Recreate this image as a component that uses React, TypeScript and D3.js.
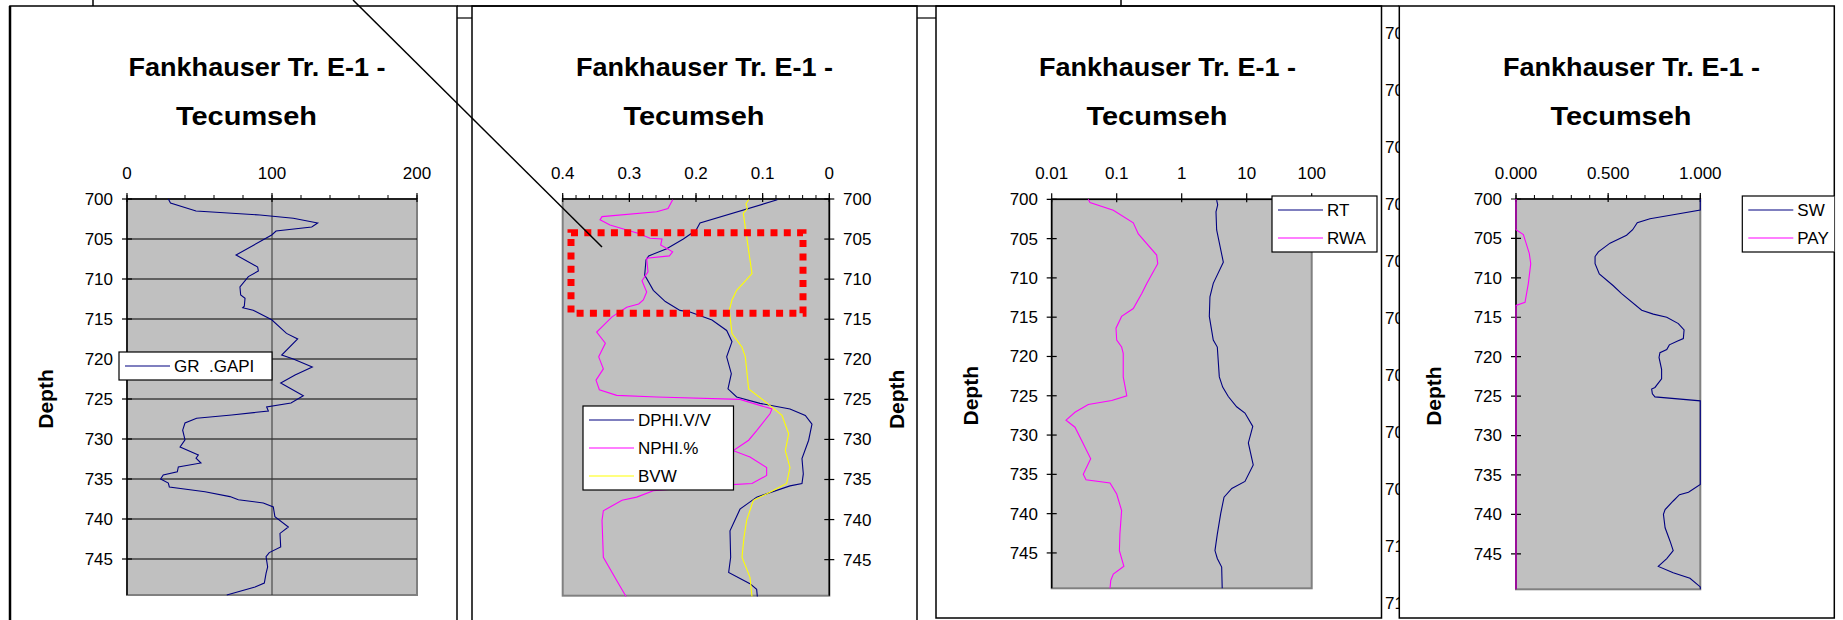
import * as d3 from 'd3';

type Pt = [number, number]; // [depth, value]

const TITLE_LINE1 = 'Fankhauser Tr. E-1 -';
const TITLE_LINE2 = 'Tecumseh';
const DEPTH_TICKS = [700, 705, 710, 715, 720, 725, 730, 735, 740, 745];
const DEPTH_DOMAIN: [number, number] = [700, 749.5];
// labels of a hidden depth axis that peek through the gap between the last two tracks
const GHOST_TICKS = [701, 702, 703, 704, 705, 706, 707, 708, 709, 710, 711];

const GR_TICKS = [0, 100, 200];
const POR_TICKS = [0.4, 0.3, 0.2, 0.1, 0];
const RES_TICKS = [0.01, 0.1, 1, 10, 100];
const SW_TICKS = [0, 0.5, 1];

const GR: Pt[] = [
  [700, 28.5], [700.5, 30], [701.5, 47.6], [702, 91.7], [702.4, 114.7], [703, 131.5], [703.5, 127.4],
  [704, 102.8], [704.5, 99.8], [707, 75.2], [708.5, 90.1], [709, 90.6], [709.7, 83.7], [711, 77.9],
  [712, 78.4], [712.4, 81.4], [713.4, 80.9], [713.6, 79.8], [713.9, 87], [715.1, 99.8], [716.8, 110],
  [717.5, 117.7], [719.5, 106.7], [720, 114.7], [721, 127.8], [722, 115.9], [723, 106], [724.6, 121.6],
  [725.5, 113.1], [726, 96.3], [726.5, 97.5], [727, 72.2], [727.4, 48], [728, 40], [728.9, 38.4],
  [730.1, 40], [731, 36.6], [732, 49.2], [732.4, 47.6], [733, 51], [733.5, 35.4], [734.1, 34.7],
  [734.5, 25], [735, 23.2], [735.5, 28.5], [736, 29.2], [736.6, 53.8], [737.2, 71], [737.6, 76.8],
  [738, 94], [738.5, 100.9], [739.7, 102], [741, 111.3], [741.8, 105.5], [743.5, 106], [744.2, 98.1],
  [744.7, 95.9], [746, 97], [746.8, 95.9], [748, 94.7], [748.5, 88.3], [749.5, 68.8],
];

const DPHI: Pt[] = [
  [700.1, 0.078], [703, 0.194], [703.9, 0.2], [705, 0.219], [706.2, 0.244], [707.1, 0.271], [707.6, 0.275],
  [709.5, 0.277], [711.4, 0.264], [712.8, 0.246], [713.9, 0.224], [714.1, 0.209], [715.1, 0.176],
  [716.4, 0.154], [717.8, 0.146], [719.7, 0.154], [721.8, 0.147], [723.7, 0.152], [724.7, 0.139],
  [725.5, 0.104], [726.2, 0.059], [727, 0.036], [728.1, 0.026], [730.1, 0.031], [732.4, 0.041],
  [734.3, 0.039], [735.5, 0.041], [735.8, 0.059], [737.2, 0.109], [738.7, 0.134], [741.4, 0.149],
  [744.7, 0.148], [746.6, 0.151], [748, 0.119], [748.7, 0.109], [749.6, 0.108],
];

const NPHI: Pt[] = [
  [700.1, 0.235], [701.2, 0.242], [701.6, 0.259], [702.2, 0.341], [702.6, 0.344], [703.25, 0.329],
  [704.3, 0.286], [704.9, 0.269], [705, 0.251], [705.75, 0.253], [706.6, 0.235], [707.1, 0.24],
  [707.4, 0.274], [709.1, 0.272], [710.2, 0.281], [711.6, 0.274], [712.6, 0.279], [713.1, 0.286],
  [713.5, 0.304], [714.7, 0.326], [716.6, 0.349], [718, 0.336], [719.7, 0.346], [721.2, 0.339],
  [722.6, 0.35], [723.8, 0.345], [724.5, 0.319], [724.7, 0.259], [725, 0.134], [726.2, 0.086],
  [726.8, 0.089], [728.9, 0.109], [730.1, 0.121], [731.4, 0.144], [732.2, 0.119], [733.5, 0.094],
  [734.5, 0.094], [735.5, 0.116], [735.7, 0.159], [736.4, 0.264], [737.2, 0.289], [737.6, 0.311],
  [738.9, 0.339], [740.1, 0.341], [744.7, 0.339], [747.6, 0.319], [749.6, 0.305],
];

const BVW: Pt[] = [
  [700.1, 0.121], [700.6, 0.125], [701.2, 0.123], [701.8, 0.129], [704.7, 0.124], [707.6, 0.119],
  [709.3, 0.116], [710.5, 0.129], [711.4, 0.139], [712.6, 0.146], [713.9, 0.15], [716.8, 0.146],
  [718.5, 0.131], [719.7, 0.126], [723.7, 0.121], [725.1, 0.099], [727, 0.071], [729.3, 0.061],
  [731.4, 0.066], [733.5, 0.059], [735.5, 0.064], [736.6, 0.089], [737.6, 0.114], [740.1, 0.124],
  [742.2, 0.128], [744.7, 0.131], [747.2, 0.119], [749.6, 0.116],
];

const RT: Pt[] = [
  [700.1, 3.45], [700.7, 3.58], [701.6, 3.37], [703.9, 3.45], [708, 4.37], [710.7, 3.06], [712.4, 2.72],
  [714.9, 2.66], [717.9, 3.06], [718.8, 3.53], [722.6, 3.79], [723.9, 4.27], [725.1, 5.21], [726.4, 7.0],
  [727.2, 9.4], [728.9, 12.4], [731, 10.6], [733.8, 12.6], [735.9, 9.4], [736.8, 5.9], [737.9, 4.48],
  [740, 3.98], [742.6, 3.53], [744.7, 3.25], [745.7, 3.53], [746.8, 4.12], [749.5, 4.2],
];

const RWA: Pt[] = [
  [700, 0.0365], [700.4, 0.0388], [701.4, 0.0887], [703, 0.18], [704.4, 0.215], [707.1, 0.412],
  [708.2, 0.428], [710.7, 0.29], [712, 0.243], [713.9, 0.18], [714.9, 0.119], [716.4, 0.0975],
  [717.9, 0.1], [718.8, 0.119], [719.6, 0.126], [722.6, 0.126], [725, 0.143], [725.6, 0.0838],
  [726.1, 0.0365], [727.1, 0.0228], [728.1, 0.0166], [729, 0.0228], [731.1, 0.0306], [733, 0.0398],
  [735, 0.0306], [735.7, 0.0337], [736.1, 0.0789], [737.5, 0.1], [739.6, 0.119], [742.6, 0.112],
  [744.7, 0.11], [746.7, 0.129], [747.7, 0.0887], [748.5, 0.081], [749.5, 0.079],
];

const SW: Pt[] = [
  [700, 1], [701.4, 1], [702, 0.853], [702.5, 0.727], [703, 0.658], [703.9, 0.633], [704.6, 0.6],
  [705.6, 0.51], [706.7, 0.447], [707.3, 0.429], [708.2, 0.429], [709.5, 0.452], [711, 0.528],
  [712, 0.573], [714.1, 0.682], [714.6, 0.745], [715, 0.818], [715.8, 0.881], [716.6, 0.912],
  [717.7, 0.908], [718, 0.877], [718.5, 0.832], [719.1, 0.818], [719.5, 0.781], [720.1, 0.776],
  [721.6, 0.79], [722.8, 0.79], [723.9, 0.754], [724.1, 0.736], [724.7, 0.74], [725.1, 0.754],
  [725.6, 1], [736.2, 1], [737.2, 0.936], [737.5, 0.887], [738.3, 0.853], [739.4, 0.809], [740, 0.8],
  [741.7, 0.809], [743.4, 0.836], [744.6, 0.853], [745.6, 0.818], [746.6, 0.772], [747.4, 0.853],
  [748.1, 0.944], [749.2, 1], [749.5, 1],
];

const PAY: Pt[] = [
  [700, 0], [703.9, 0], [704.5, 0.04], [706.9, 0.072], [708.2, 0.08], [710.7, 0.067], [713.1, 0.049],
  [713.5, 0], [749.5, 0],
];

const FONT = '"Liberation Sans", Arial, sans-serif';
const NAVY = '#000080';
const MAGENTA = '#ff00ff';
const YELLOW = '#ffff00';

interface Series { name: string; color: string; data: Pt[] }

interface TrackProps {
  id: string;
  frame: { l: number; r: number; t: number; b: number };
  plot: { l: number; r: number; t: number; b: number };
  x: d3.ScaleContinuousNumeric<number, number>;
  ticks: number[];
  minor: number[];
  fmt: (v: number) => string;
  axisSide: 'left' | 'right';
  labelX: number;
  depthX: number;
  titleX: number;
  grid?: boolean;
  series: Series[];
  legend: { x: number; y: number; w: number };
}

function Track(p: TrackProps) {
  const { frame, plot, x } = p;
  const y = d3.scaleLinear().domain(DEPTH_DOMAIN).range([plot.t, plot.b]);
  const axisX = p.axisSide === 'left' ? plot.l : plot.r;
  const line = d3.line<Pt>().x(d => x(d[1])).y(d => y(d[0]));
  const legendH = p.series.length * 28;

  return (
    <g>
      <defs>
        <clipPath id={`clip-${p.id}`}>
          <rect x={frame.l} y={frame.t} width={frame.r - frame.l} height={frame.b - frame.t} />
        </clipPath>
      </defs>
      <rect x={frame.l} y={frame.t} width={frame.r - frame.l} height={frame.b - frame.t}
        fill="#fff" stroke="#000" strokeWidth={1.5} />
      <g clipPath={`url(#clip-${p.id})`} fontFamily={FONT}>
        <text x={p.titleX + 10.5} y={76} textAnchor="middle" fontSize={26} fontWeight="bold"
          textLength={257} lengthAdjust="spacingAndGlyphs">{TITLE_LINE1}</text>
        <text x={p.titleX} y={125} textAnchor="middle" fontSize={26} fontWeight="bold"
          textLength={141} lengthAdjust="spacingAndGlyphs">{TITLE_LINE2}</text>

        <rect x={plot.l} y={plot.t} width={plot.r - plot.l} height={plot.b - plot.t}
          fill="#c0c0c0" stroke="#808080" strokeWidth={2} />

        {p.grid && DEPTH_TICKS.slice(1).map(d => (
          <line key={`g${d}`} x1={plot.l} x2={plot.r} y1={y(d)} y2={y(d)} stroke="#000" strokeWidth={1} />
        ))}
        {p.grid && p.ticks.slice(1, -1).map(v => (
          <line key={`gv${v}`} x1={x(v)} x2={x(v)} y1={plot.t} y2={plot.b} stroke="#333" strokeWidth={1} />
        ))}

        {/* top value axis */}
        <line x1={plot.l} x2={plot.r} y1={plot.t} y2={plot.t} stroke="#000" strokeWidth={1.5} />
        {p.minor.map(v => (
          <line key={`m${v}`} x1={x(v)} x2={x(v)} y1={plot.t - 4} y2={plot.t} stroke="#000" strokeWidth={1} />
        ))}
        {p.ticks.map(v => (
          <g key={`t${v}`}>
            <line x1={x(v)} x2={x(v)} y1={plot.t - 6} y2={plot.t + 3} stroke="#000" strokeWidth={1.2} />
            <text x={x(v)} y={173} dy="0.35em" textAnchor="middle" fontSize={17}>{p.fmt(v)}</text>
          </g>
        ))}

        {/* depth axis */}
        <line x1={axisX} x2={axisX} y1={plot.t} y2={plot.b} stroke="#000" strokeWidth={1.5} />
        {DEPTH_TICKS.map(d => (
          <g key={`d${d}`}>
            <line x1={axisX - 5} x2={axisX + 5} y1={y(d)} y2={y(d)} stroke="#000" strokeWidth={1.2} />
            <text x={p.labelX} y={y(d)} dy="0.35em" fontSize={17}
              textAnchor={p.axisSide === 'left' ? 'end' : 'start'}>{d}</text>
          </g>
        ))}
        <text transform={`translate(${p.depthX},${y(725)}) rotate(-90)`} dy="0.35em"
          textAnchor="middle" fontSize={21} fontWeight="bold">Depth</text>

        {p.series.map(s => (
          <path key={s.name} d={line(s.data) ?? ''} fill="none" stroke={s.color} strokeWidth={1.1} />
        ))}

        <rect x={p.legend.x} y={p.legend.y} width={p.legend.w} height={legendH}
          fill="#fff" stroke="#000" strokeWidth={1.2} />
        {p.series.map((s, i) => {
          const cy = p.legend.y + 14 + i * 28;
          return (
            <g key={`l${s.name}`}>
              <line x1={p.legend.x + 6} x2={p.legend.x + 51} y1={cy} y2={cy} stroke={s.color} strokeWidth={1.2} />
              <text x={p.legend.x + 55} y={cy} dy="0.35em" fontSize={17}
                style={{ whiteSpace: 'pre' }}>{s.name}</text>
            </g>
          );
        })}
      </g>
    </g>
  );
}

export default function App() {
  const ghostY = d3.scaleLinear().domain([701, 711]).range([33, 603]);

  return (
    <svg width={1843} height={620} style={{ position: 'absolute', left: 0, top: 0, background: '#fff' }}>
      {/* stubs of objects above the view */}
      <line x1={93} x2={93} y1={0} y2={6} stroke="#000" strokeWidth={1.5} />
      <line x1={1121} x2={1121} y1={0} y2={6} stroke="#000" strokeWidth={1.5} />

      <Track id="gr"
        frame={{ l: 10, r: 457, t: 6, b: 660 }}
        plot={{ l: 127, r: 417, t: 199, b: 595 }}
        x={d3.scaleLinear().domain([0, 200]).range([127, 417])}
        ticks={GR_TICKS} minor={d3.range(0, 201, 20)} fmt={v => String(v)}
        axisSide="left" labelX={113} depthX={46} titleX={246.5} grid
        series={[{ name: 'GR  .GAPI', color: NAVY, data: GR }]}
        legend={{ x: 119, y: 352, w: 153 }} />
      <line x1={10} x2={10} y1={6} y2={620} stroke="#000" strokeWidth={2.5} />

      <Track id="por"
        frame={{ l: 472, r: 917, t: 6, b: 660 }}
        plot={{ l: 562.7, r: 829.3, t: 199, b: 595.7 }}
        x={d3.scaleLinear().domain([0.4, 0]).range([562.7, 829.3])}
        ticks={POR_TICKS} minor={d3.range(0, 21).map(i => i * 0.02)} fmt={v => String(v)}
        axisSide="right" labelX={843} depthX={897} titleX={694}
        series={[
          { name: 'DPHI.V/V', color: NAVY, data: DPHI },
          { name: 'NPHI.%', color: MAGENTA, data: NPHI },
          { name: 'BVW', color: YELLOW, data: BVW },
        ]}
        legend={{ x: 583, y: 406, w: 150.5 }} />

      <Track id="res"
        frame={{ l: 936, r: 1381.5, t: 6, b: 618 }}
        plot={{ l: 1051.7, r: 1311.7, t: 199.3, b: 588.3 }}
        x={d3.scaleLog().domain([0.01, 100]).range([1051.7, 1311.7])}
        ticks={RES_TICKS} minor={[]} fmt={v => String(v)}
        axisSide="left" labelX={1038} depthX={971} titleX={1157}
        series={[
          { name: 'RT', color: NAVY, data: RT },
          { name: 'RWA', color: MAGENTA, data: RWA },
        ]}
        legend={{ x: 1272, y: 196, w: 105 }} />

      <g fontFamily={FONT} fontSize={17}>
        {GHOST_TICKS.map(d => (
          <text key={d} x={1385} y={ghostY(d)} dy="0.35em">{d}</text>
        ))}
      </g>

      <Track id="sw"
        frame={{ l: 1399.3, r: 1834.3, t: 6, b: 618 }}
        plot={{ l: 1516, r: 1700.3, t: 199, b: 589.3 }}
        x={d3.scaleLinear().domain([0, 1]).range([1516, 1700.3])}
        ticks={SW_TICKS} minor={d3.range(0, 11).map(i => i / 10)} fmt={d3.format('.3f')}
        axisSide="left" labelX={1502} depthX={1434} titleX={1621}
        series={[
          { name: 'SW', color: NAVY, data: SW },
          { name: 'PAY', color: MAGENTA, data: PAY },
        ]}
        legend={{ x: 1742.3, y: 196, w: 105 }} />

      {/* gaps between tracks */}
      <line x1={457} x2={472} y1={18} y2={18} stroke="#000" strokeWidth={1.2} />
      <line x1={917} x2={936} y1={18} y2={18} stroke="#000" strokeWidth={1.2} />
      <line x1={457} x2={1399} y1={6} y2={6} stroke="#000" strokeWidth={1.5} />

      {/* highlighted interval and pointer */}
      <rect x={571} y={232.7} width={232} height={80.6} fill="none" stroke="#ff0000"
        strokeWidth={7} strokeDasharray="7 6.3" />
      <line x1={353} y1={0} x2={602} y2={247} stroke="#000" strokeWidth={1.5} />
    </svg>
  );
}
